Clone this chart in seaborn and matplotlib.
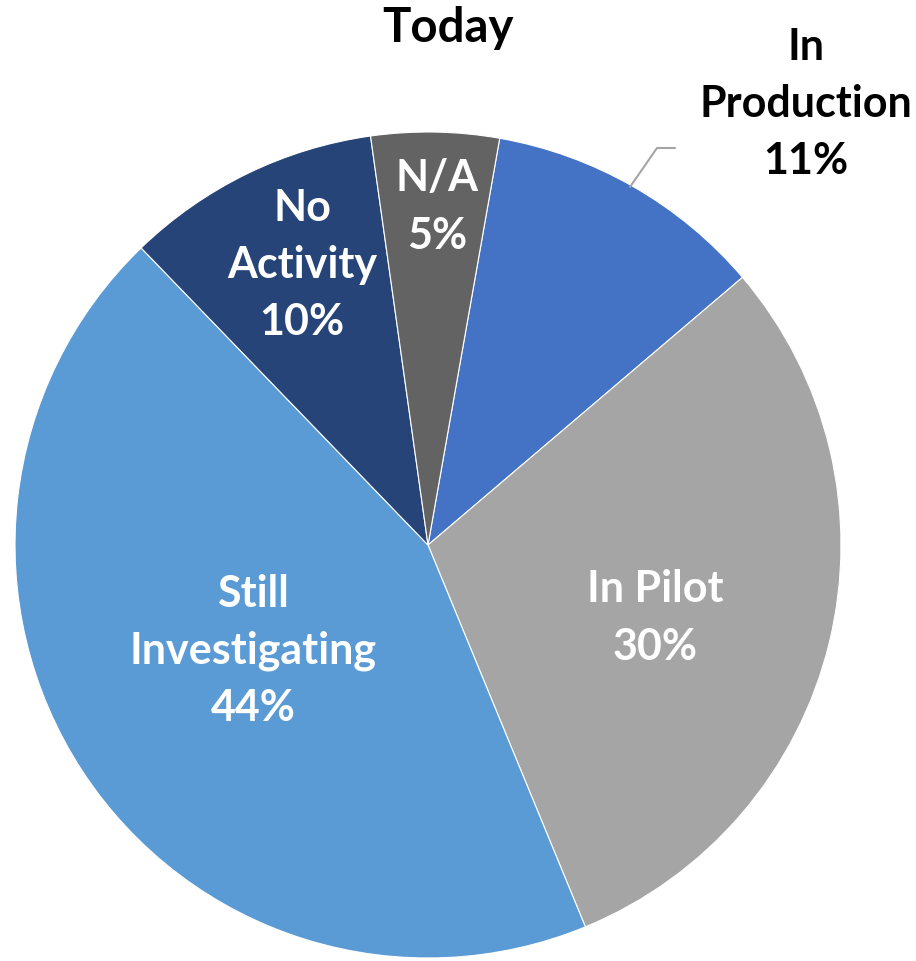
import matplotlib
matplotlib.use("Agg")
import matplotlib.pyplot as plt
import seaborn as sns

# Adoption status shares, in drawing order (clockwise from the top)
categories = ["In Production", "In Pilot", "Still Investigating", "No Activity", "N/A"]
shares = [11, 30, 44, 10, 5]
label_text = ["In\nProduction\n11%", "In Pilot\n30%", "Still\nInvestigating\n44%", "No\nActivity\n10%", "N/A\n5%"]
slice_colors = ["#4472C4", "#A5A5A5", "#5B9BD5", "#264478", "#636363"]

sns.set_theme(style="white")
plt.rcParams["font.family"] = ["Lato", "DejaVu Sans"]

W, H = 916, 961
fig = plt.figure(figsize=(W / 100, H / 100), dpi=100)
ax = fig.add_axes([0, 0, 1, 1])

cx, cy, r = 428, H - 545, 413
wedges, _ = ax.pie(
    shares,
    colors=slice_colors,
    startangle=80,
    counterclock=False,
    center=(cx, cy),
    radius=r,
    wedgeprops=dict(edgecolor="white", linewidth=0.8),
)
ax.set_xlim(0, W)
ax.set_ylim(0, H)
ax.set_aspect("equal")
ax.axis("off")

# label anchor points (pixel coordinates, top-left origin)
label_pos = [(806, 104), (655, 618), (253, 651), (302, 265), (437, 207)]
label_color = ["black", "white", "white", "white", "white"]
for txt, (px, py), col in zip(label_text, label_pos, label_color):
    ax.text(px, H - py, txt, ha="center", va="center", color=col,
            fontsize=31, fontweight="bold", linespacing=1.52)

# leader line for the outside label
ax.plot([630, 657, 675], [H - 187, H - 148, H - 148], color="#A5A5A5", lw=1.5)

ax.text(448, H - 28, "Today", ha="center", va="center", color="black",
        fontsize=34, fontweight="bold")

fig.savefig("out.png", dpi=100)
